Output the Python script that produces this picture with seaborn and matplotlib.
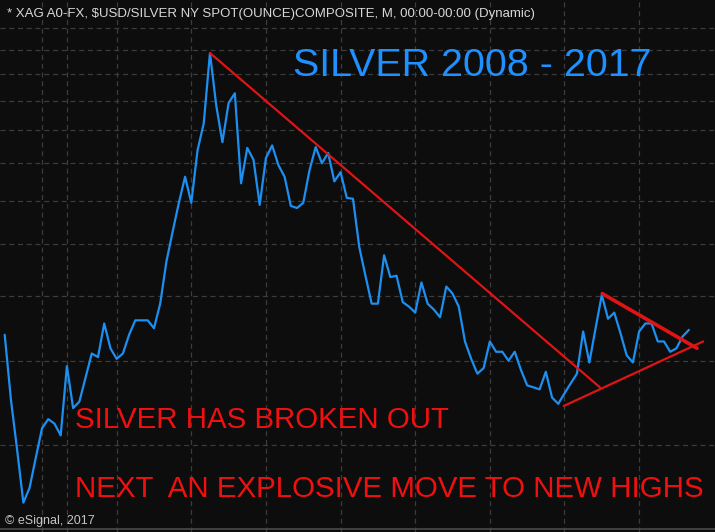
import matplotlib
matplotlib.use("Agg")
import matplotlib.pyplot as plt
import numpy as np
import pandas as pd
import seaborn as sns

# ---- data (monthly, Jul 2008 .. Sep 2017) ----
month_labels = [str(p) for p in pd.period_range("2008-07", "2017-09", freq="M")]
price = [16.5, 13.0, 10.8, 8.9, 9.4, 10.5, 11.7, 12.1, 11.9, 11.4,
         14.7, 12.6, 12.9, 14.1, 15.4, 15.2, 17.2, 15.7, 15.1, 15.4,
         16.5, 17.4, 17.4, 17.4, 16.9, 18.5, 21.6, 24.1, 26.8, 29.5,
         26.8, 32.5, 35.9, 46.5, 38.4, 33.5, 38.7, 40.1, 28.8, 32.8,
         31.4, 26.6, 31.6, 33.1, 30.8, 29.5, 26.5, 26.3, 26.8, 30.2,
         32.9, 31.0, 32.2, 29.0, 30.0, 27.3, 27.2, 22.8, 20.5, 18.5,
         18.5, 22.1, 20.4, 20.5, 18.6, 18.3, 17.9, 20.0, 18.5, 18.1,
         17.6, 19.7, 19.2, 18.3, 16.1, 15.1, 14.3, 14.6, 16.1, 15.5,
         15.5, 15.0, 15.5, 14.5, 13.7, 13.6, 13.5, 14.4, 13.1, 12.8,
         13.3, 13.8, 14.3, 16.7, 14.9, 16.9, 19.1, 17.5, 17.9, 16.6,
         15.3, 14.9, 16.7, 17.2, 17.2, 16.1, 16.1, 15.5, 15.7, 16.4,
         16.8]

# trend lines (month index, price)
down_trend_x = [33.0, 95.7]
down_trend_y = [46.5, 13.6]
support_x = [89.9, 112.3]
support_y = [12.7, 16.1]
upper_x = [96.06, 111.3]
upper_y = [19.2, 15.7]

# grid positions
price_grid = [11, 15, 19, 23, 27, 31, 35, 39, 43, 47, 51]
month_grid = [6, 10, 18, 30, 42, 54, 66, 78, 90, 102]

df = pd.DataFrame({"m": np.arange(len(price)), "month": month_labels, "price": price})

sns.set_theme(style="dark")
plt.rcParams["font.family"] = ["Liberation Sans", "DejaVu Sans"]

BG = "#0d0d0d"
fig = plt.figure(figsize=(7.15, 5.32), dpi=100, facecolor=BG)
ax = fig.add_axes([0, 0, 1, 1])
ax.set_facecolor(BG)

ax.set_yscale("log")
ax.set_xlim(-0.756, 114.2)
ax.set_ylim(7.99, 56.5)

ax.set_yticks(price_grid)
ax.set_xticks(month_grid)
ax.yaxis.set_minor_locator(matplotlib.ticker.NullLocator())
ax.set_xticklabels([])
ax.set_yticklabels([])
ax.tick_params(length=0)
ax.grid(True, color="#3c3c3c", lw=0.9, ls=(0, (4, 3)))
for s in ax.spines.values():
    s.set_visible(False)
ax.axhline(8.07, color="#4a4a4a", lw=1.2)

sns.lineplot(data=df, x="m", y="price", ax=ax, color="#1c8ff0", lw=1.6)
ax.plot(down_trend_x, down_trend_y, color="#e01414", lw=1.6)
ax.plot(support_x, support_y, color="#e01414", lw=1.6)
ax.plot(upper_x, upper_y, color="#e01414", lw=2.6)
ax.set_xlabel("")
ax.set_ylabel("")

W, H = 715, 532
fig.text(7 / W, 1 - 17 / H,
         "* XAG A0-FX, $USD/SILVER NY SPOT(OUNCE)COMPOSITE, M, 00:00-00:00 (Dynamic)",
         color="#d8d8d8", fontsize=9.5, ha="left", va="baseline")
fig.text(293 / W, 1 - 76 / H, "SILVER 2008 - 2017", color="#1e90ff",
         fontsize=28.4, ha="left", va="baseline")
fig.text(75 / W, 1 - 428 / H, "SILVER HAS BROKEN OUT", color="#f01010",
         fontsize=21.25, ha="left", va="baseline")
fig.text(75 / W, 1 - 497 / H, "NEXT  AN EXPLOSIVE MOVE TO NEW HIGHS", color="#f01010",
         fontsize=21.25, ha="left", va="baseline")
fig.text(5 / W, 1 - 524 / H, "\u00a9 eSignal, 2017", color="#c4c4c4",
         fontsize=9, ha="left", va="baseline")

fig.savefig("out.png", dpi=100, facecolor=BG)
